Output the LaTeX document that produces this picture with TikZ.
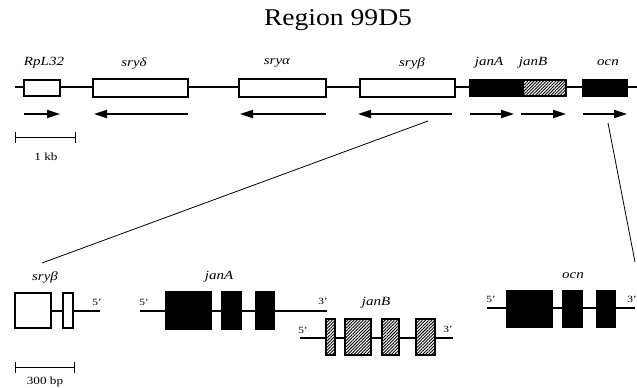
\documentclass[tikz,border=0pt]{standalone}
\usepackage{fontspec}
\setmainfont[FakeStretch=1.2]{Liberation Serif}
\newfontfamily\titlefont[FakeStretch=1.15]{Liberation Serif}
\usetikzlibrary{patterns.meta,arrows.meta}
\begin{document}
\begin{tikzpicture}[x=1pt,y=-1pt,
  dna/.style={line width=1.4pt},
  openbox/.style={draw,line width=1.4pt,fill=white},
  solidbox/.style={draw,line width=1.4pt,fill=black},
  hatchbox/.style={draw,line width=1.4pt,preaction={fill=white},pattern={Lines[angle=45,distance=2.2pt,line width=0.9pt]}},
  dir/.style={line width=1.7pt,-{Triangle[length=13pt,width=8pt]}},
  glabel/.style={font=\itshape\fontsize{12.5}{14}\selectfont,inner sep=0pt},
  endlabel/.style={font=\fontsize{9.5}{10}\selectfont,inner sep=0pt},
  scalelabel/.style={font=\fontsize{11}{12}\selectfont,inner sep=0pt},
  scalebar/.style={line width=0.9pt,{Bar[width=11pt]}-{Bar[width=11pt]}},
  zoomline/.style={line width=0.8pt}]
\useasboundingbox (0,0) rectangle (637,388);
% title
\node[font=\titlefont\fontsize{24}{27}\selectfont,inner sep=0pt] (title) at (338,20) {Region 99D5};
% top map
\coordinate (tl) at (15,87);
\coordinate (tr) at (637,87);
\draw[dna] (tl) -- (tr);
\draw[openbox] (24,80) rectangle (60,96);
\draw[openbox] (93,79) rectangle (188,97);
\draw[openbox] (239,79) rectangle (326,97);
\draw[openbox] (360,79) rectangle (455,97);
\draw[solidbox] (470,80) rectangle (523,96);
\draw[hatchbox] (523,80) rectangle (566,96);
\draw[solidbox] (583,80) rectangle (627,96);
\node[glabel] (lrpl) at (44,63) {RpL32};
\node[glabel] (ld) at (134,63) {sryδ};
\node[glabel] (la) at (277,63) {sryα};
\node[glabel] (lb) at (412,63) {sryβ};
\node[glabel] (lja) at (489,63) {janA};
\node[glabel] (ljb) at (533,63) {janB};
\node[glabel] (locn) at (608,63) {ocn};
% direction arrows
\coordinate (a1s) at (24,114); \coordinate (a1e) at (60,114);
\coordinate (a2s) at (188,114); \coordinate (a2e) at (94,114);
\coordinate (a3s) at (326,114); \coordinate (a3e) at (240,114);
\coordinate (a4s) at (452,114); \coordinate (a4e) at (358,114);
\coordinate (a5s) at (470,114); \coordinate (a5e) at (514,114);
\coordinate (a6s) at (521,114); \coordinate (a6e) at (566,114);
\coordinate (a7s) at (583,114); \coordinate (a7e) at (627,114);
\draw[dir] (a1s) -- (a1e);
\draw[dir] (a2s) -- (a2e);
\draw[dir] (a3s) -- (a3e);
\draw[dir] (a4s) -- (a4e);
\draw[dir] (a5s) -- (a5e);
\draw[dir] (a6s) -- (a6e);
\draw[dir] (a7s) -- (a7e);
% 1 kb scale
\coordinate (kb1) at (15,137); \coordinate (kb2) at (76,137);
\draw[scalebar] (kb1) -- (kb2);
\node[scalelabel] (kb) at (46,157) {1 kb};
% zoom lines
\coordinate (z1a) at (428,121); \coordinate (z1b) at (42,263);
\coordinate (z2a) at (608,123); \coordinate (z2b) at (635,262);
\draw[zoomline] (z1a) -- (z1b);
\draw[zoomline] (z2a) -- (z2b);
% sry beta detail
\node[glabel] (dlb) at (45,277) {sryβ};
\coordinate (sb1) at (51,311); \coordinate (sb2) at (100,311);
\draw[dna] (sb1) -- (sb2);
\draw[openbox] (15,293) rectangle (51,328);
\draw[openbox] (63,293) rectangle (73,328);
\node[endlabel] (sb5) at (97,302) {5'};
% 300 bp scale
\coordinate (bp1) at (15,367); \coordinate (bp2) at (75,367);
\draw[scalebar] (bp1) -- (bp2);
\node[scalelabel] (bp) at (45,382) {300 bp};
% janA detail
\node[glabel] (dlja) at (219,277) {janA};
\coordinate (ja1) at (140,311); \coordinate (ja2) at (327,311);
\draw[dna] (ja1) -- (ja2);
\draw[solidbox] (166,292) rectangle (211,329);
\draw[solidbox] (222,292) rectangle (241,329);
\draw[solidbox] (256,292) rectangle (274,329);
\node[endlabel] (ja5) at (144,302) {5'};
\node[endlabel] (ja3) at (323,301) {3'};
% janB detail
\node[glabel] (dljb) at (376,303) {janB};
\coordinate (jb1) at (300,338); \coordinate (jb2) at (453,338);
\draw[dna] (jb1) -- (jb2);
\draw[hatchbox] (326,319) rectangle (335,355);
\draw[hatchbox] (345,319) rectangle (371,355);
\draw[hatchbox] (382,319) rectangle (399,355);
\draw[hatchbox] (416,319) rectangle (435,355);
\node[endlabel] (jb5) at (303,330) {5'};
\node[endlabel] (jb3) at (448,329) {3'};
% ocn detail
\node[glabel] (dlocn) at (573,276) {ocn};
\coordinate (oc1) at (487,308); \coordinate (oc2) at (635,308);
\draw[dna] (oc1) -- (oc2);
\draw[solidbox] (507,291) rectangle (552,327);
\draw[solidbox] (563,291) rectangle (582,327);
\draw[solidbox] (597,291) rectangle (615,327);
\node[endlabel] (oc5) at (491,299) {5'};
\node[endlabel] (oc3) at (632,299) {3'};
\end{tikzpicture}
\end{document}
